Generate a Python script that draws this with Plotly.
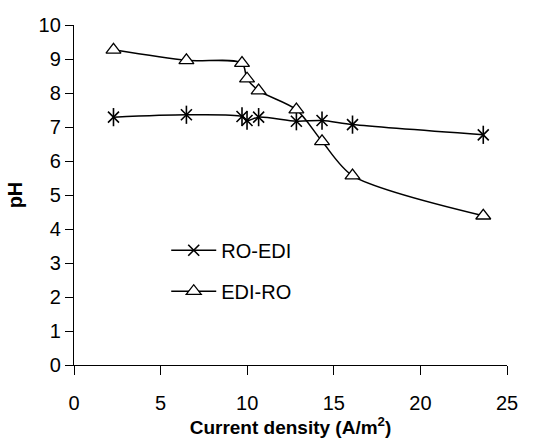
import plotly.graph_objects as go

current_density = [2.28, 6.49, 9.7, 9.99, 10.66, 12.84, 14.32, 16.08, 23.63]
ph_ro_edi = [7.29, 7.36, 7.31, 7.19, 7.29, 7.17, 7.19, 7.07, 6.77]
ph_edi_ro = [9.27, 8.96, 8.88, 8.42, 8.07, 7.51, 6.58, 5.57, 4.39]

x_ticks = [0, 5, 10, 15, 20, 25]
y_ticks = list(range(0, 11))

font_family = "Liberation Sans, Arial, sans-serif"

fig = go.Figure()

fig.add_trace(go.Scatter(
    x=current_density, y=ph_ro_edi, name="RO-EDI", mode="lines+markers",
    line=dict(color="black", width=1.5, shape="spline", smoothing=0.8),
    marker=dict(symbol="x-thin-open", size=11, color="black",
                line=dict(color="black", width=1.6)),
    legendgroup="a",
))
fig.add_trace(go.Scatter(
    x=current_density, y=ph_ro_edi, name="RO-EDI", mode="markers",
    marker=dict(symbol="line-ns-open", size=13, color="black",
                line=dict(color="black", width=1.6)),
    legendgroup="a", showlegend=False, hoverinfo="skip",
))
fig.add_trace(go.Scatter(
    x=current_density, y=ph_edi_ro, name="EDI-RO", mode="lines+markers",
    line=dict(color="black", width=1.5, shape="spline", smoothing=0.8),
    marker=dict(symbol="triangle-up", size=13, color="white",
                line=dict(color="black", width=1.3)),
    legendgroup="b",
))

fig.update_layout(
    width=552, height=443,
    margin=dict(l=74, r=45, t=25, b=78),
    paper_bgcolor="white", plot_bgcolor="white",
    font=dict(family=font_family, size=20, color="black"),
    showlegend=True,
    legend=dict(x=0.213, y=0.395, xanchor="left", yanchor="top",
                bgcolor="rgba(0,0,0,0)", font=dict(size=20),
                traceorder="grouped", tracegroupgap=12, itemwidth=45),
    xaxis=dict(range=[0, 25], tickvals=x_ticks, showgrid=False, zeroline=False,
               showline=True, linecolor="black", linewidth=1.3,
               ticks="outside", ticklen=9, tickcolor="black", tickwidth=1.3,
               ticklabelstandoff=11, automargin=False,
               title=dict(text="<b>Current density (A/m<sup>2</sup>)</b>",
                          font=dict(size=19), standoff=6)),
    yaxis=dict(range=[0, 10], tickvals=y_ticks, showgrid=False, zeroline=False,
               showline=True, linecolor="black", linewidth=1.3,
               ticks="outside", ticklen=8, tickcolor="black", tickwidth=1.3,
               automargin=False,
               title=dict(text="<b>pH</b>", font=dict(size=20), standoff=10)),
)

fig.write_html("out.html", config={"displayModeBar": False},
               post_script="document.body.style.margin='0';")
